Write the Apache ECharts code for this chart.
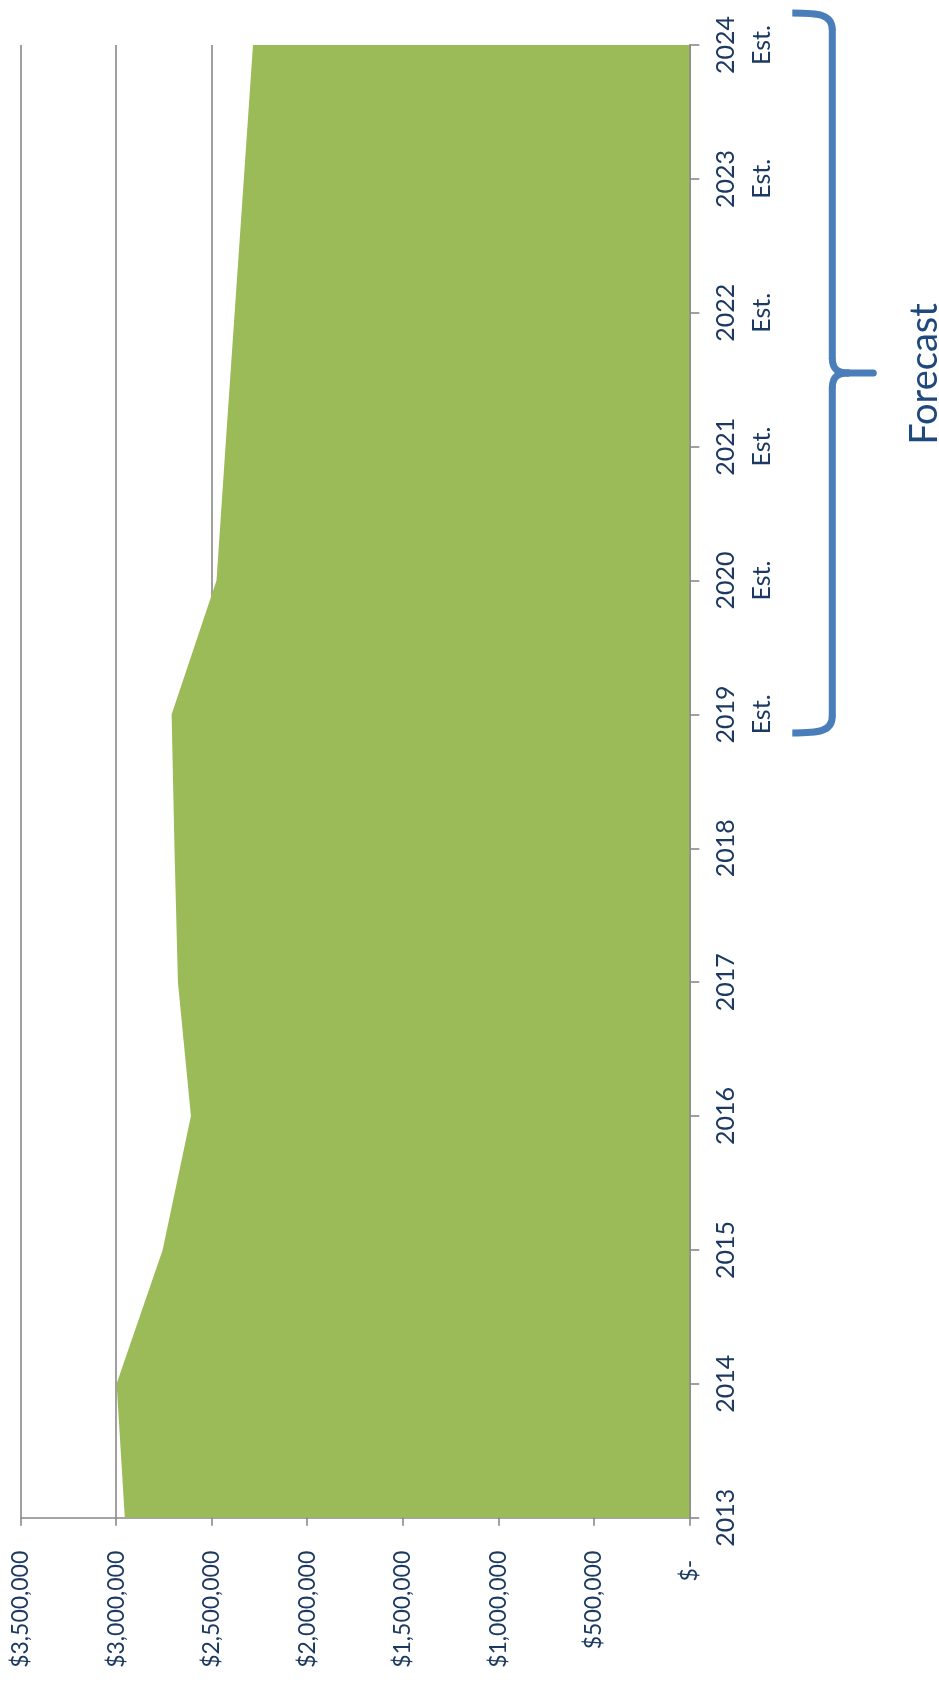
<!DOCTYPE html>
<html>
<head>
<meta charset="utf-8">
<script src="https://cdn.jsdelivr.net/npm/echarts@6/dist/echarts.min.js"></script>
<style>
html,body{margin:0;padding:0;background:#ffffff;}
#c{width:939px;height:1683px;}
</style>
</head>
<body>
<div id="c"></div>
<script>
// ---- data ----
const categories = ['2013','2014','2015','2016','2017','2018','2019\nEst.','2020\nEst.','2021\nEst.','2022\nEst.','2023\nEst.','2024\nEst.'];
const revenue = [2955000, 2998000, 2757000, 2609000, 2677000, 2695000, 2710000, 2475000, 2428000, 2380000, 2332000, 2284000];
const valueMin = 0;
const valueMax = 3500000;
const valueStep = 500000;
const forecastLabel = 'Forecast';
const forecastFirstIndex = 6;
const forecastLastIndex = 11;

// ---- styles ----
const labelColor = '#1c3961';
const gridColor = '#888888';
const areaColor = '#9bbb59';
const braceColor = '#4a7ebb';

function moneyLabel(v) {
  if (v === 0) return '{z|$-}';
  return '$' + v.toLocaleString('en-US');
}

const chart = echarts.init(document.getElementById('c'), null, {renderer: 'canvas'});

const option = {
  animation: false,
  backgroundColor: '#ffffff',
  grid: {left: 20.7, right: 249.7, top: 45, bottom: 165.3, containLabel: false, outerBoundsMode: 'none'},
  xAxis: {
    type: 'value',
    inverse: true,
    position: 'bottom',
    min: valueMin,
    max: valueMax,
    interval: valueStep,
    axisLine: {show: true, lineStyle: {color: gridColor, width: 1.6}},
    axisTick: {show: true, length: 8, lineStyle: {color: gridColor, width: 1.6}},
    splitLine: {show: true, lineStyle: {color: gridColor, width: 1.6}},
    axisLabel: {
      rotate: 90,
      margin: 33,
      color: labelColor,
      fontFamily: 'Lato',
      fontSize: 23,
      formatter: moneyLabel,
      rich: {z: {padding: [0, 9, 0, 0], color: labelColor, fontFamily: 'Lato', fontSize: 23}}
    }
  },
  yAxis: {
    type: 'category',
    data: categories,
    boundaryGap: false,
    position: 'right',
    axisLine: {show: true, onZero: false, lineStyle: {color: gridColor, width: 1.6}},
    axisTick: {show: true, length: 10, interval: 0, lineStyle: {color: gridColor, width: 1.6}},
    splitLine: {show: false},
    axisLabel: {
      rotate: 90,
      interval: 0,
      margin: 19,
      color: labelColor,
      fontFamily: 'Lato',
      fontSize: 25,
      lineHeight: 36
    }
  },
  series: [{
    type: 'line',
    data: revenue,
    symbol: 'none',
    silent: true,
    lineStyle: {width: 0, color: areaColor},
    itemStyle: {color: areaColor},
    areaStyle: {color: areaColor, opacity: 1}
  }]
};
chart.setOption(option);

// ---- forecast brace, anchored to the category axis ----
const yTop = chart.convertToPixel({yAxisIndex: 0}, forecastLastIndex) - 32;
const yBot = chart.convertToPixel({yAxisIndex: 0}, forecastFirstIndex) + 18.5;
const mid = (yTop + yBot) / 2;
const x0 = chart.convertToPixel({xAxisIndex: 0}, 0);
const xEnd = x0 + 103;
const xV = x0 + 143;
const xTip = x0 + 184;
const bs = {stroke: braceColor, lineWidth: 7, fill: null};
function st(cap) { return Object.assign({}, bs, {lineCap: cap}); }

chart.setOption({
  graphic: [
    {type: 'bezierCurve', silent: true, shape: {x1: xEnd, y1: yTop, cpx1: xEnd + 26, cpy1: yTop, cpx2: xV, cpy2: yTop + 1, x2: xV, y2: yTop + 17}, style: st('butt')},
    {type: 'line', silent: true, shape: {x1: xV, y1: yTop + 16, x2: xV, y2: mid - 14}, style: st('butt')},
    {type: 'bezierCurve', silent: true, shape: {x1: xV, y1: mid - 15, cpx1: xV, cpy1: mid - 3, cpx2: xV + 6, cpy2: mid, x2: xV + 17, y2: mid}, style: st('butt')},
    {type: 'line', silent: true, shape: {x1: xV + 16, y1: mid, x2: xTip, y2: mid}, style: st('round')},
    {type: 'bezierCurve', silent: true, shape: {x1: xV + 17, y1: mid, cpx1: xV + 6, cpy1: mid, cpx2: xV, cpy2: mid + 3, x2: xV, y2: mid + 15}, style: st('butt')},
    {type: 'line', silent: true, shape: {x1: xV, y1: mid + 14, x2: xV, y2: yBot - 16}, style: st('butt')},
    {type: 'bezierCurve', silent: true, shape: {x1: xV, y1: yBot - 17, cpx1: xV, cpy1: yBot - 1, cpx2: xEnd + 26, cpy2: yBot, x2: xEnd, y2: yBot}, style: st('butt')},
    {type: 'text', silent: true, x: x0 + 235, y: mid + 1, rotation: Math.PI / 2,
      style: {text: forecastLabel, fill: '#1f497d', fontFamily: 'Lato', fontSize: 38, align: 'center', verticalAlign: 'middle'}}
  ]
});
</script>
</body>
</html>
